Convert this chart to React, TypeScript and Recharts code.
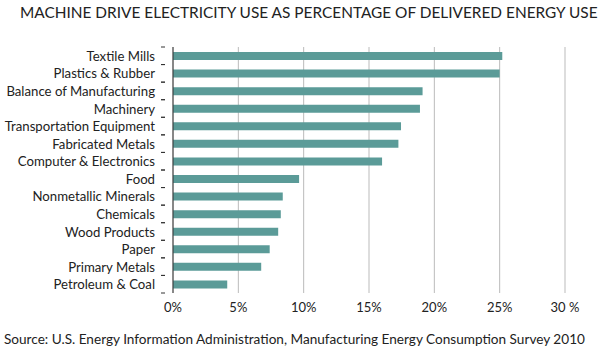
import { Bar, BarChart, CartesianGrid, XAxis, YAxis } from "recharts";

const CATEGORIES = [
  "Textile Mills",
  "Plastics & Rubber",
  "Balance of Manufacturing",
  "Machinery",
  "Transportation Equipment",
  "Fabricated Metals",
  "Computer & Electronics",
  "Food",
  "Nonmetallic Minerals",
  "Chemicals",
  "Wood Products",
  "Paper",
  "Primary Metals",
  "Petroleum & Coal",
];

const SHARES = [25.2, 25.0, 19.1, 18.9, 17.45, 17.25, 16.0, 9.65, 8.4, 8.25, 8.05, 7.4, 6.75, 4.15];

const X_TICKS = [0, 5, 10, 15, 20, 25, 30];

const data = CATEGORIES.map((name, i) => ({ name, share: SHARES[i] }));

const TOP = 47;
const PLOT_BOTTOM = 293;
const BAND = (PLOT_BOTTOM - TOP) / CATEGORIES.length;

const CategoryTick = ({ x, y, payload }: any) => (
  <g>
    <line x1={x - 4} x2={x} y1={y - BAND / 2} y2={y - BAND / 2} stroke="#333" />
    <line x1={x - 4} x2={x} y1={y + BAND / 2} y2={y + BAND / 2} stroke="#333" />
    <text x={x - 10} y={y} textAnchor="end" dominantBaseline="central" fontSize={13.2} fill="#222">
      {payload.value}
    </text>
  </g>
);

export default function App() {
  return (
    <div
      style={{
        position: "absolute",
        left: 0,
        top: 0,
        width: 600,
        height: 352,
        background: "#fff",
        fontFamily: "Lato, sans-serif",
        color: "#222",
      }}
    >
      <div style={{ position: "absolute", left: 20, top: 3, fontSize: 15.4, whiteSpace: "nowrap" }}>
        MACHINE DRIVE ELECTRICITY USE AS PERCENTAGE OF DELIVERED ENERGY USE
      </div>
      <BarChart
        width={600}
        height={352}
        data={data}
        layout="vertical"
        margin={{ top: TOP, right: 35, bottom: 29, left: 0 }}
        barCategoryGap={0}
      >
        <CartesianGrid horizontal={false} stroke="#bbb" />
        <XAxis
          type="number"
          domain={[0, 30]}
          ticks={X_TICKS}
          axisLine={false}
          tickLine={false}
          tickSize={0}
          tickMargin={10}
          height={30}
          tick={{ fontSize: 13, fill: "#222" }}
          tickFormatter={(v: number) => (v === 30 ? "30 %" : `${v}%`)}
        />
        <YAxis
          type="category"
          dataKey="name"
          width={173}
          axisLine={{ stroke: "#333" }}
          tickLine={false}
          interval={0}
          tick={<CategoryTick />}
        />
        <Bar dataKey="share" fill="#5b9b98" barSize={8} isAnimationActive={false} />
      </BarChart>
      <div style={{ position: "absolute", left: 4, top: 331, fontSize: 13.6, whiteSpace: "nowrap" }}>
        Source: U.S. Energy Information Administration, Manufacturing Energy Consumption Survey 2010
      </div>
    </div>
  );
}
